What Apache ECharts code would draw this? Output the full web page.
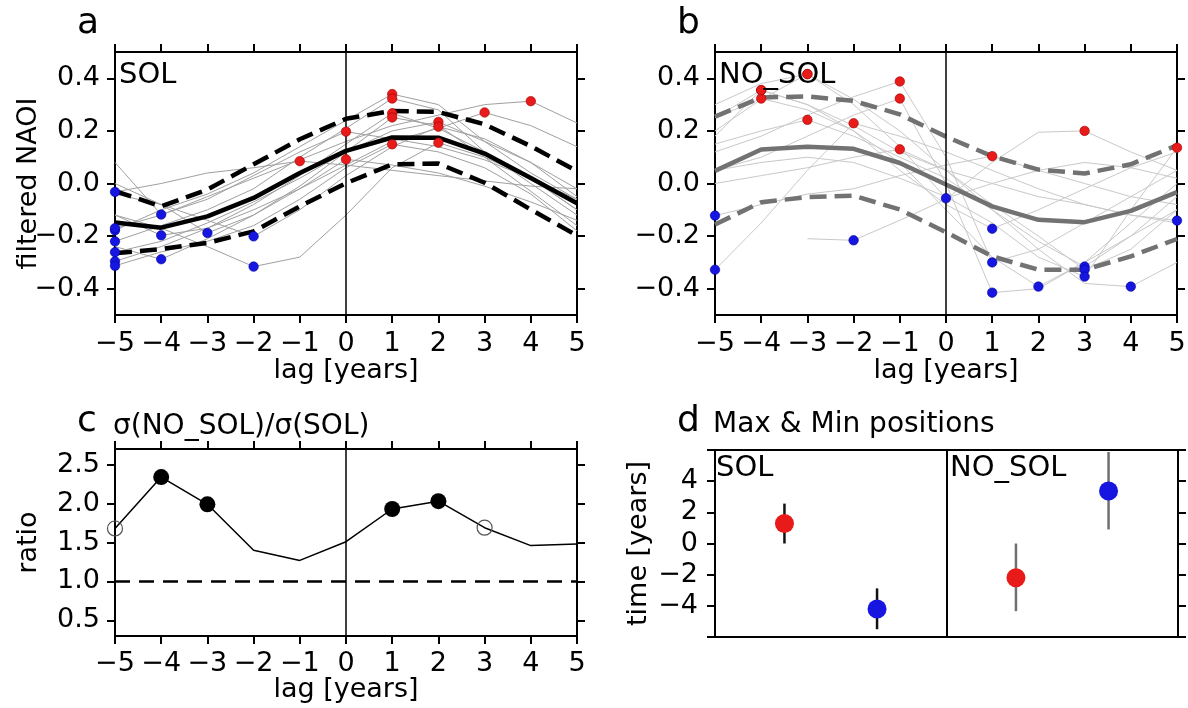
<!DOCTYPE html>
<html><head><meta charset="utf-8">
<script src="https://cdn.jsdelivr.net/npm/echarts@6/dist/echarts.min.js"></script>
<style>html,body{margin:0;padding:0;background:#fff}#c{width:1188px;height:708px}</style>
</head><body><div id="c"></div>
<script>
// ---------------- data ----------------
const lags = [-5,-4,-3,-2,-1,0,1,2,3,4,5];
const yTicksNAOI = [-0.4,-0.2,0,0.2,0.4];
const yTicksRatio = [0.5,1.0,1.5,2.0,2.5];
const yTicksTime = [-6,-4,-2,0,2,4,6];
const yLabelsTime = [-4,-2,0,2,4];

// panel a: SOL
const solMean  = [-0.148,-0.168,-0.125,-0.055,0.040,0.124,0.175,0.174,0.114,0.021,-0.075];
const solUpper = [-0.029,-0.087,-0.023,0.073,0.168,0.246,0.276,0.272,0.225,0.142,0.047];
const solLower = [-0.265,-0.249,-0.226,-0.182,-0.087,0.001,0.073,0.076,0.003,-0.099,-0.198];
const solMembers = [
  [-0.032,0.00,0.04,0.06,0.085,0.07,0.05,0.03,0.01,-0.01,-0.02],
  [-0.178,-0.10,-0.04,0.04,0.14,0.24,0.34,0.30,0.16,0.04,-0.06],
  [-0.22,-0.16,-0.10,-0.02,0.10,0.21,0.323,0.28,0.12,0.00,-0.12],
  [-0.261,-0.22,-0.15,-0.07,0.02,0.12,0.20,0.234,0.16,0.08,-0.02],
  [-0.296,-0.24,-0.17,-0.08,0.03,0.15,0.267,0.21,0.12,0.02,-0.10],
  [-0.313,-0.26,-0.22,-0.16,-0.06,0.06,0.149,0.12,0.06,-0.04,-0.18],
  [0.08,-0.118,-0.06,0.03,0.12,0.197,0.17,0.14,0.09,0.02,-0.06],
  [-0.12,-0.197,-0.17,-0.10,-0.02,0.07,0.16,0.21,0.27,0.22,0.14],
  [-0.24,-0.288,-0.21,-0.12,-0.01,0.12,0.251,0.22,0.10,-0.03,-0.16],
  [0.0,-0.08,-0.188,-0.12,-0.02,0.092,0.07,0.04,-0.01,-0.07,-0.14],
  [-0.04,-0.08,-0.14,-0.201,-0.10,0.03,0.14,0.216,0.17,0.08,-0.05],
  [-0.12,-0.17,-0.24,-0.316,-0.28,-0.12,0.06,0.155,0.10,0.02,-0.10],
  [-0.17,-0.12,-0.05,0.02,0.09,0.16,0.22,0.26,0.30,0.313,0.23]
];

// panel b: NO_SOL
const nosolMean  = [0.048,0.129,0.140,0.132,0.078,-0.004,-0.087,-0.138,-0.147,-0.104,-0.033];
const nosolUpper = [0.254,0.327,0.331,0.314,0.263,0.178,0.104,0.053,0.038,0.073,0.145];
const nosolLower = [-0.156,-0.071,-0.052,-0.046,-0.099,-0.185,-0.277,-0.328,-0.328,-0.277,-0.211];
const nosolMembers = [
  [-0.122,-0.08,-0.04,-0.02,0.03,0.07,0.104,0.05,0.0,-0.05,-0.08],
  [-0.328,-0.15,0.05,0.229,0.18,0.12,0.05,-0.02,-0.08,-0.12,-0.15],
  [null,null,-0.21,-0.216,-0.14,-0.06,0.08,0.195,0.20,0.12,0.05],
  [0.30,0.38,0.416,0.30,0.14,-0.056,0.0,0.05,0.08,0.06,0.02],
  [0.25,0.355,0.30,0.20,0.05,-0.08,-0.172,-0.10,-0.02,0.06,0.12],
  [0.12,0.18,0.26,0.33,0.388,0.10,-0.30,-0.25,-0.15,-0.05,0.05],
  [0.05,0.10,0.18,0.26,0.323,0.0,-0.415,-0.40,-0.30,-0.20,-0.10],
  [0.25,0.323,0.28,0.20,0.08,-0.10,-0.28,-0.392,-0.30,-0.15,0.0],
  [0.15,0.20,0.242,0.18,0.10,0.02,-0.10,-0.22,-0.316,-0.20,-0.05],
  [0.0,0.03,0.06,0.10,0.13,0.05,-0.08,-0.20,-0.328,-0.25,-0.10],
  [0.05,0.08,0.10,0.08,0.02,-0.05,-0.15,-0.28,-0.354,-0.10,0.136],
  [0.20,0.32,0.416,0.32,0.20,0.05,-0.10,-0.25,-0.38,-0.392,-0.30],
  [0.18,0.355,0.30,0.22,0.12,0.05,0.0,-0.05,-0.08,-0.12,-0.141]
];

// panel c: sigma ratio
const ratio = [1.68,2.34,1.99,1.40,1.27,1.51,1.93,2.03,1.69,1.46,1.48];
const ratioSig = ['open','filled','filled','none','none','none','filled','filled','open','none','none'];

// panel d: max & min positions
const posX     = [0.6, 1.4, 2.6, 3.4];
const posValue = [1.28, -4.2, -2.2, 3.37];
const posLow   = [0.0, -5.5, -4.34, 0.9];
const posHigh  = [2.56, -2.88, 0.0, 5.87];
const posKind  = ['max','min','max','min'];
const posGroup = ['SOL','SOL','NO_SOL','NO_SOL'];

// ---------------- styles ----------------
const FONT = 'DejaVu Sans';
const FS = 27;
const RED = '#e81a1a', BLUE = '#1616e0';
const MINUS = '\u2212';
const fmtInt = v => (v < 0 ? MINUS : '') + Math.abs(v);
const fmt1 = v => (v < -1e-9 ? MINUS : '') + Math.abs(v).toFixed(1);

const lineOn = () => ({show:true, onZero:false, lineStyle:{color:'#000', width:2}});
const lineOff = () => ({show:false, onZero:false});
const tickAx = (cv) => ({show:true, inside:false, length:8, lineStyle:{color:'#000', width:2}, customValues: cv});
const lbl = (extra) => Object.assign({show:true, color:'#000', fontFamily:FONT, fontSize:FS, showMinLabel:true, showMaxLabel:true}, extra);
const nameStyle = {color:'#000', fontFamily:FONT, fontSize:FS};

function xPair(grid, nameGap, margin) {
  const bottom = {type:'value', gridIndex:grid, position:'bottom', min:-5, max:5, interval:1,
    axisLine:lineOn(), axisTick:tickAx(), splitLine:{show:false},
    axisLabel:lbl({margin:margin, formatter:fmtInt}),
    name:'lag [years]', nameLocation:'middle', nameGap:nameGap, nameTextStyle:nameStyle, nameMoveOverlap:false};
  const top = {type:'value', gridIndex:grid, position:'top', min:-5, max:5, interval:1,
    axisLine:lineOff(), axisTick:tickAx(), splitLine:{show:false}, axisLabel:{show:false}};
  return [bottom, top];
}
function yPair(grid, min, max, ticks, labels, fmt, name, nameGap, margin) {
  const left = {type:'value', gridIndex:grid, position:'left', min:min, max:max,
    axisLine:lineOn(), axisTick:tickAx(ticks), splitLine:{show:false},
    axisLabel:lbl({margin:margin, formatter:fmt, customValues:labels})};
  if (name) Object.assign(left, {name:name, nameLocation:'middle', nameGap:nameGap, nameRotate:90, nameTextStyle:nameStyle, nameMoveOverlap:false});
  const right = {type:'value', gridIndex:grid, position:'right', min:min, max:max,
    axisLine:lineOff(), axisTick:tickAx(ticks), splitLine:{show:false}, axisLabel:{show:false}};
  return [left, right];
}

const xAxes = [
  ...xPair(0, 42, 15),
  ...xPair(1, 42, 15),
  ...xPair(2, 40, 14),
  {type:'value', gridIndex:3, position:'bottom', min:0, max:4, axisLine:lineOn(), axisTick:{show:false}, axisLabel:{show:false}, splitLine:{show:false}},
  {type:'value', gridIndex:3, position:'top', min:0, max:4, axisLine:lineOff(), axisTick:{show:false}, axisLabel:{show:false}, splitLine:{show:false}}
];
const yAxes = [
  ...yPair(0, -0.5, 0.5, yTicksNAOI, yTicksNAOI, fmt1, 'filtered NAOI', 73, 15),
  ...yPair(1, -0.5, 0.5, yTicksNAOI, yTicksNAOI, fmt1, null, 0, 15),
  ...yPair(2, 0.3, 2.7, yTicksRatio, yTicksRatio, fmt1, 'ratio', 73, 15),
  ...yPair(3, -6, 6, yTicksTime, yLabelsTime, fmtInt, 'time [years]', 63, 17)
];

const series = [];
const noEmph = {disabled:true};

function ensemblePanel(xi, yi, members, mean, upper, lower, memberColor, meanColor) {
  members.forEach(m => {
    series.push({type:'line', xAxisIndex:xi, yAxisIndex:yi, silent:true, symbol:'none', z:1,
      lineStyle:{color:memberColor, width:1}, emphasis:noEmph,
      data: lags.map((x,i)=>[x, m[i]]).filter(p => p[1] !== null)});
  });
  const thick = (arr, type, extra) => Object.assign({type:'line', xAxisIndex:xi, yAxisIndex:yi, silent:true, symbol:'none', z:3,
    lineStyle:{color:meanColor, width:4.5, type:type}, emphasis:noEmph,
    data: lags.map((x,i)=>[x, arr[i]])}, extra || {});
  series.push(thick(mean, 'solid', {markLine:{silent:true, symbol:'none', label:{show:false}, emphasis:noEmph,
    lineStyle:{color:'#000', width:1.5, type:'solid'}, data:[{xAxis:0}]}}));
  series.push(thick(upper, [17,8]));
  series.push(thick(lower, [17,8]));
  const maxPts = [], minPts = [];
  members.forEach(m => {
    let iMax = -1, iMin = -1;
    m.forEach((v,i) => {
      if (v === null) return;
      if (iMax < 0 || v > m[iMax]) iMax = i;
      if (iMin < 0 || v < m[iMin]) iMin = i;
    });
    maxPts.push([lags[iMax], m[iMax]]);
    minPts.push([lags[iMin], m[iMin]]);
  });
  series.push({type:'scatter', xAxisIndex:xi, yAxisIndex:yi, silent:true, symbolSize:9.5, z:5, clip:false,
    itemStyle:{color:RED, opacity:1, borderColor:'#a00000', borderWidth:0.6}, data:maxPts});
  series.push({type:'scatter', xAxisIndex:xi, yAxisIndex:yi, silent:true, symbolSize:9.5, z:5, clip:false,
    itemStyle:{color:BLUE, opacity:1, borderColor:'#0000a0', borderWidth:0.6}, data:minPts});
}
ensemblePanel(0, 0, solMembers, solMean, solUpper, solLower, '#a0a0a0', '#000');
ensemblePanel(2, 2, nosolMembers, nosolMean, nosolUpper, nosolLower, '#c9c9c9', '#727272');

// panel c
series.push({type:'line', xAxisIndex:4, yAxisIndex:4, silent:true, symbol:'none', z:3,
  lineStyle:{color:'#000', width:1.5}, emphasis:noEmph,
  data: lags.map((x,i)=>[x, ratio[i]]),
  markLine:{silent:true, symbol:'none', label:{show:false}, emphasis:noEmph,
    data:[
      {xAxis:0, lineStyle:{color:'#000', width:1.5, type:'solid'}},
      {yAxis:1.0, lineStyle:{color:'#000', width:2.5, type:[15,9]}}
    ]}});
series.push({type:'scatter', xAxisIndex:4, yAxisIndex:4, silent:true, symbolSize:16, z:5,
  itemStyle:{color:'#000', opacity:1},
  data: lags.map((x,i)=>[x, ratio[i]]).filter((p,i)=>ratioSig[i]==='filled')});
series.push({type:'scatter', xAxisIndex:4, yAxisIndex:4, silent:true, symbolSize:15, z:5,
  itemStyle:{color:'rgba(0,0,0,0)', opacity:1, borderColor:'#555', borderWidth:1.2},
  data: lags.map((x,i)=>[x, ratio[i]]).filter((p,i)=>ratioSig[i]==='open')});

// panel d
series.push({type:'custom', xAxisIndex:6, yAxisIndex:6, silent:true, z:3,
  data: posX.map((x,i)=>[x, posLow[i], posHigh[i]]),
  encode:{x:0, y:[1,2]},
  renderItem:(params, api) => {
    const x = api.value(0);
    const p1 = api.coord([x, api.value(1)]), p2 = api.coord([x, api.value(2)]);
    return {type:'line', shape:{x1:p1[0], y1:p1[1], x2:p2[0], y2:p2[1]},
      style:{stroke: posGroup[params.dataIndex]==='SOL' ? '#111' : '#707070', lineWidth:2.5}};
  }});
series.push({type:'scatter', xAxisIndex:6, yAxisIndex:6, silent:true, symbolSize:19, z:5,
  data: posX.map((x,i)=>({value:[x, posValue[i]], itemStyle:{opacity:1, color: posKind[i]==='max' ? RED : BLUE}})),
  markLine:{silent:true, symbol:'none', label:{show:false}, emphasis:noEmph,
    data:[{xAxis:2, lineStyle:{color:'#000', width:2, type:'solid'}}]}});

const txt = (s, x, y, size) => ({type:'text', x:x, y:y, silent:true, z:100,
  style:{text:s, fontFamily:FONT, fontSize:size, fill:'#000', verticalAlign:'middle', align:'left'}});

const gridBox = (l, t, w, h) => ({left:l, top:t, width:w, height:h, show:true, borderColor:'#000', borderWidth:2,
  backgroundColor:'transparent', outerBoundsMode:'none', containLabel:false});

const option = {
  animation:false,
  backgroundColor:'#fff',
  textStyle:{fontFamily:FONT},
  grid:[
    gridBox(115, 52, 462, 263),
    gridBox(715, 52, 462, 263),
    gridBox(115, 449, 462, 187),
    gridBox(715, 450, 463, 187)
  ],
  xAxis: xAxes,
  yAxis: yAxes,
  series: series,
  graphic: [
    txt('a', 77, 24, 36),
    txt('b', 677, 24, 36),
    txt('c', 77, 422, 36),
    txt('d', 677, 422, 36),
    txt('SOL', 119, 75, 29),
    txt('NO_SOL', 719, 75, 29),
    txt('\u03c3(NO_SOL)/\u03c3(SOL)', 113, 427, 28),
    txt('Max & Min positions', 713, 425, 28),
    txt('SOL', 716, 468, 29),
    txt('NO_SOL', 950, 468, 29)
  ]
};
const chart = echarts.init(document.getElementById('c'), null, {renderer:'canvas'});
chart.setOption(option);
</script></body></html>
